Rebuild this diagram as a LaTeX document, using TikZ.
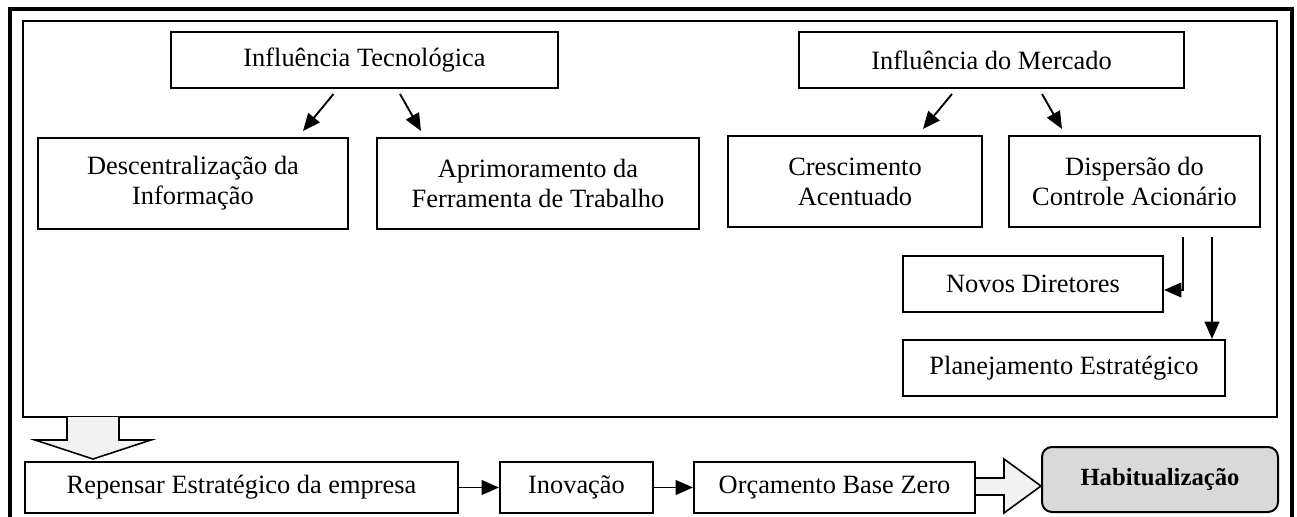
\documentclass[tikz,border=0pt]{standalone}
\usepackage{fontspec}
\setmainfont{Liberation Serif}
\usetikzlibrary{arrows.meta,calc}

\def\boxfont{\fontsize{19.8pt}{22.5pt}\selectfont}

\begin{document}
\begin{tikzpicture}[x=0.75pt,y=-0.75pt,>={Triangle[length=13pt,width=11pt]}]
    \tikzstyle{box}=[draw,line width=1.5pt,inner sep=0pt,align=center,font=\boxfont]
    \tikzstyle{small box}=[box,minimum height=42pt]
    \tikzstyle{tall box}=[box,minimum height=68.25pt]
    \tikzstyle{flow box}=[box,minimum height=38.25pt]
    \tikzstyle{goal box}=[box,rounded corners=7.5pt,fill=black!15,minimum width=177pt,minimum height=48.75pt,font=\fontsize{18.5pt}{21pt}\selectfont\bfseries]
    \tikzstyle{link}=[->,line width=1.4pt]
    \tikzstyle{hollow}=[draw,line width=1.2pt,fill=black!5,line join=miter]

    \useasboundingbox (0,0) rectangle (1297,517);

    % Frames
    \draw[line width=2.5pt] (10,517) -- (10,9) -- (1292,9) -- (1292,517);
    \draw[line width=1pt] (23,21) rectangle (1277,417);

    % Influences
    \node[small box,minimum width=290.25pt] (tec) at (364.5,60) {Influência Tecnológica};
    \node[small box,minimum width=288.75pt] (merc) at (991.5,60) {Influência do Mercado};

    % Effects of the influences
    \node[tall box,minimum width=232.5pt] (desc) at (193,183.5) {Descentralização da\\Informação};
    \node[tall box,minimum width=241.5pt] (aprim) at (538,183.5) {Aprimoramento da\\Ferramenta de Trabalho};
    \node[tall box,minimum width=190.5pt] (cresc) at (855,181.5) {Crescimento\\Acentuado};
    \node[tall box,minimum width=188.25pt] (disp) at (1134.5,181.5) {Dispersão do\\Controle Acionário};
    \node[small box,minimum width=195pt] (novos) at (1033,284) {Novos Diretores};
    \node[small box,minimum width=241.5pt] (plan) at (1064,368) {Planejamento Estratégico};

    % Bottom row
    \node[flow box,minimum width=324.75pt] (repensar) at (241.5,487.5) {Repensar Estratégico da empresa};
    \node[flow box,minimum width=114.75pt] (inov) at (576.5,487.5) {Inovação};
    \node[flow box,minimum width=210.75pt] (orc) at (834.5,487.5) {Orçamento Base Zero};
    \node[goal box] (habit) at (1160,479.5) {Habitualização};

    % Arrows from the influences
    \foreach \src/\sx/\dst/\dx in {tec/-31/desc/110, tec/35.5/aprim/-117,
                                   merc/-39.5/cresc/68, merc/50.5/disp/-72.5}
        \draw[link] ($(\src.south)+(\sx,5)$) -- ($(\dst.north)+(\dx,-6)$);

    \coordinate (d1) at ($(disp.south)+(48.5,9)$);
    \coordinate (d2) at ($(disp.south)+(77.5,9)$);
    \draw[link] (d1) |- ($(novos.east)+(0,6)$);
    \draw[link] (d2) -- (d2 |- plan.north);

    % Flow of the bottom row
    \draw[link] (repensar.east) -- (inov.west);
    \draw[link] (inov.east) -- (orc.west);

    % Hollow arrows
    \draw[hollow] (67,417) -- (67,440) -- (35,440) -- (93,459) -- (151,440) -- (119,440) -- (119,417);
    \draw[hollow] (orc.east |- 0,478) -- (1004,478) -- (1004,459) -- (1041,486) -- (1004,513) -- (1004,495) -- (orc.east |- 0,495);
\end{tikzpicture}
\end{document}
